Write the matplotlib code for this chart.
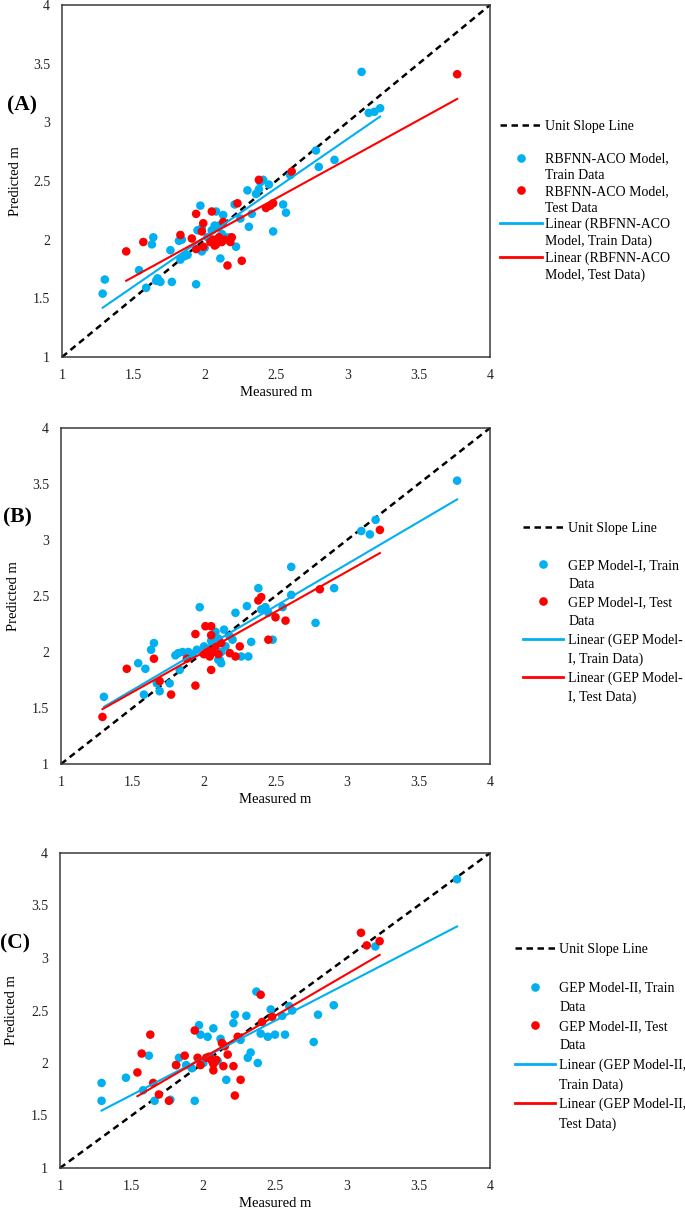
import matplotlib
matplotlib.use("Agg")
import matplotlib.pyplot as plt
from matplotlib.lines import Line2D
import numpy as np

plt.rcParams['font.family'] = ['Liberation Serif', 'DejaVu Serif']

# ---------------- data ----------------
panel_labels = ["(A)", "(B)", "(C)"]
model_names = ["RBFNN-ACO Model", "GEP Model-I", "GEP Model-II"]
ticks = [1, 1.5, 2, 2.5, 3, 3.5, 4]
tick_labels = ["1", "1.5", "2", "2.5", "3", "3.5", "4"]

a_train_x = [1.30, 1.285, 1.54, 1.59, 1.63, 1.64, 1.66, 1.69, 1.67, 1.77, 1.76, 1.82, 1.84, 1.83, 1.88,
             1.86, 1.94, 1.97, 1.95, 1.98, 1.98, 2.00, 2.02, 2.05, 2.08, 2.13, 2.10, 2.11, 2.15, 2.18,
             2.22, 2.21, 2.25, 2.31, 2.33, 2.30, 2.36, 2.38, 2.39, 2.41, 2.45, 2.48, 2.55, 2.57, 2.60,
             2.78, 2.80, 2.91, 3.10, 3.15, 3.19, 3.23, 2.05, 2.07, 2.12]
a_train_y = [1.66, 1.54, 1.74, 1.59, 1.96, 2.02, 1.65, 1.64, 1.67, 1.64, 1.91, 1.99, 2.00, 1.83, 1.87,
             1.86, 1.62, 2.29, 2.08, 2.10, 1.90, 1.93, 2.02, 2.00, 2.24, 2.21, 2.12, 1.84, 2.02, 2.02,
             1.94, 2.30, 2.18, 2.11, 2.22, 2.42, 2.39, 2.43, 2.49, 2.51, 2.47, 2.07, 2.30, 2.23, 2.55,
             2.76, 2.62, 2.68, 3.43, 3.08, 3.09, 3.12, 2.08, 2.12, 2.05]
a_test_x = [1.45, 1.57, 1.83, 1.91, 1.94, 1.99, 1.98, 2.05, 2.13, 1.94, 1.99, 2.04, 2.06, 2.08, 2.10,
            2.12, 2.14, 2.07, 2.16, 2.26, 2.23, 2.38, 2.43, 2.48, 2.46, 2.61, 3.77, 2.18, 2.19]
a_test_y = [1.90, 1.98, 2.04, 2.01, 2.22, 2.14, 2.07, 2.24, 2.15, 1.92, 1.94, 1.98, 2.00, 1.96, 2.02,
            1.98, 2.00, 1.95, 1.78, 1.82, 2.31, 2.51, 2.27, 2.31, 2.29, 2.58, 3.41, 1.98, 2.02]

b_train_x = [1.30, 1.58, 1.54, 1.59, 1.65, 1.63, 1.67, 1.69, 1.76, 1.83, 1.80, 1.82, 1.85, 1.89, 1.92,
             1.97, 1.95, 2.00, 2.05, 2.08, 2.10, 2.12, 2.14, 2.15, 2.18, 2.10, 2.12, 2.22, 2.26, 2.31,
             2.33, 2.30, 2.38, 2.40, 2.43, 2.45, 2.48, 2.55, 2.61, 2.61, 2.78, 2.91, 3.10, 3.16, 3.20,
             3.77, 2.20, 2.11]
b_train_y = [1.60, 1.62, 1.90, 1.85, 2.08, 2.02, 1.72, 1.65, 1.72, 1.84, 1.97, 1.99, 2.00, 2.00, 1.98,
             2.40, 2.02, 2.05, 2.10, 2.18, 2.12, 2.00, 2.20, 2.05, 2.14, 1.93, 1.90, 2.35, 1.96, 1.96,
             2.09, 2.41, 2.57, 2.38, 2.40, 2.35, 2.11, 2.40, 2.51, 2.76, 2.26, 2.57, 3.08, 3.05, 3.18,
             3.53, 2.11, 1.93]
b_test_x = [1.29, 1.46, 1.65, 1.69, 1.77, 1.88, 1.94, 1.94, 2.01, 2.05, 2.05, 2.05, 2.00, 2.02, 2.04,
            2.06, 2.08, 2.10, 2.12, 2.18, 2.22, 2.25, 2.38, 2.40, 2.45, 2.50, 2.57, 2.81, 3.23]
b_test_y = [1.42, 1.85, 1.94, 1.74, 1.62, 1.94, 2.16, 1.70, 2.23, 2.23, 2.15, 1.84, 1.98, 2.02, 1.96,
            2.00, 2.05, 1.98, 2.08, 1.99, 1.96, 2.05, 2.46, 2.49, 2.11, 2.31, 2.28, 2.56, 3.09]

c_train_x = [1.29, 1.29, 1.46, 1.62, 1.58, 1.66, 1.77, 1.81, 1.83, 1.88, 1.92, 1.94, 1.97, 1.98, 2.03,
             2.07, 2.12, 2.00, 2.05, 2.10, 2.16, 2.21, 2.22, 2.30, 2.26, 2.31, 2.33, 2.38, 2.37, 2.40,
             2.45, 2.50, 2.47, 2.55, 2.60, 2.62, 2.57, 2.77, 2.80, 2.91, 3.20, 3.77]
c_train_y = [1.81, 1.64, 1.86, 2.07, 1.74, 1.64, 1.65, 1.98, 2.05, 1.98, 1.95, 1.64, 2.36, 2.27, 2.25,
             2.33, 2.23, 2.00, 2.05, 2.02, 1.84, 2.38, 2.46, 2.45, 2.22, 2.05, 2.10, 2.00, 2.68, 2.28,
             2.25, 2.27, 2.51, 2.45, 2.54, 2.50, 2.27, 2.20, 2.46, 2.55, 3.11, 3.75]
c_test_x = [1.54, 1.57, 1.63, 1.65, 1.69, 1.76, 1.81, 1.87, 1.94, 1.96, 1.98, 2.02, 2.04, 2.06, 2.07,
            2.09, 2.07, 2.13, 2.15, 2.14, 2.17, 2.21, 2.24, 2.26, 2.22, 2.40, 2.41, 2.48, 3.10, 3.14, 3.23]
c_test_y = [1.91, 2.09, 2.27, 1.81, 1.70, 1.64, 1.98, 2.07, 2.31, 2.05, 1.98, 2.05, 2.06, 2.02, 1.99,
            2.03, 1.93, 2.19, 2.16, 1.97, 2.08, 1.97, 2.25, 1.84, 1.69, 2.65, 2.39, 2.44, 3.24, 3.12, 3.16]

# trend lines (slope, intercept)
a_fit_train = (0.838, 0.343)
a_fit_test = (0.668, 0.681)
b_fit_train = (0.750, 0.535)
b_fit_test = (0.718, 0.564)
c_fit_train = (0.707, 0.635)
c_fit_test = (0.796, 0.458)

# ---------------- style / layout ----------------
BLUE = "#00B0F0"
RED = "#FF0000"
W, H = 685, 1212
fig = plt.figure(figsize=(W / 100, H / 100), dpi=100)

def fx(px):
    return px / W

def fy(py):
    return 1 - py / H

panels = [
    dict(box=(62, 5, 490, 357), data=(a_train_x, a_train_y, a_test_x, a_test_y, a_fit_train, a_fit_test),
         leg=(500, 120, 3.0, 0.22, 0.24), lab=(22, 105), ylab_x=22, pairs=[("RBFNN-ACO Model,", "Train Data"),
         ("RBFNN-ACO Model,", "Test Data"), ("Linear (RBFNN-ACO", "Model, Train Data)"), ("Linear (RBFNN-ACO", "Model, Test Data)")]),
    dict(box=(61, 428, 490, 764), data=(b_train_x, b_train_y, b_test_x, b_test_y, b_fit_train, b_fit_test),
         leg=(523, 522, 2.9, 0.36, 0.40), lab=(17, 517), ylab_x=20, pairs=[("GEP Model-I, Train", "Data"),
         ("GEP Model-I, Test", "Data"), ("Linear (GEP Model-", "I, Train Data)"), ("Linear (GEP Model-", "I, Test Data)")]),
    dict(box=(60, 853, 490, 1168), data=(c_train_x, c_train_y, c_test_x, c_test_y, c_fit_train, c_fit_test),
         leg=(515, 943, 2.9, 0.29, 0.45), lab=(15, 943), ylab_x=18, pairs=[("GEP Model-II, Train", "Data"),
         ("GEP Model-II, Test", "Data"), ("Linear (GEP Model-II,", "Train Data)"), ("Linear (GEP Model-II,", "Test Data)")]),
]

for i, p in enumerate(panels):
    l, t, r, b = p["box"]
    ax = fig.add_axes([fx(l), fy(b), fx(r) - fx(l), fy(t) - fy(b)])
    trx, tr_y, tex, tey, ftr, fte = p["data"]
    ax.plot([ticks[0], ticks[-1]], [ticks[0], ticks[-1]], color="black", lw=1.8,
            linestyle=(0, (2.6, 1.8)), zorder=1, clip_on=False)
    ax.scatter(trx, tr_y, s=38, color=BLUE, edgecolors="none", zorder=2)
    ax.scatter(tex, tey, s=38, color=RED, edgecolors="none", zorder=3)
    xs = np.array([min(trx), max(trx)])
    ax.plot(xs, ftr[0] * xs + ftr[1], color=BLUE, lw=1.5, zorder=4)
    xs = np.array([min(tex), max(tex)])
    ax.plot(xs, fte[0] * xs + fte[1], color=RED, lw=1.5, zorder=4)
    ax.set_xlim(1, 4)
    ax.set_ylim(1, 4)
    ax.set_xticks(ticks)
    ax.set_xticklabels(tick_labels)
    ax.set_yticks(ticks)
    ax.set_yticklabels(tick_labels)
    ax.tick_params(length=0, labelsize=10, pad=8.5, colors="#222222")
    for s in ax.spines.values():
        s.set_color("#3a3a3a")
        s.set_linewidth(1.1)
    ax.set_xlabel("Measured m", fontsize=10.5, labelpad=3)
    ax.set_ylabel("Predicted m", fontsize=10.5, labelpad=4)
    ax.yaxis.set_label_coords((p["ylab_x"] - l) / (r - l), 0.5, transform=ax.transAxes)

    fig.text(fx(p["lab"][0]), fy(p["lab"][1]), panel_labels[i],
             fontsize=15.5, fontweight="bold", ha="center", va="center")

    # legend: each text line as its own row
    blank = Line2D([], [], color="none")
    handles = [Line2D([], [], color="black", lw=1.8, linestyle=(0, (2.6, 1.8))), blank]
    labels = ["Unit Slope Line", " "]
    hs = [Line2D([], [], color=BLUE, marker="o", linestyle="none", markersize=6.2, markeredgewidth=0),
          Line2D([], [], color=RED, marker="o", linestyle="none", markersize=6.2, markeredgewidth=0),
          Line2D([], [], color=BLUE, lw=2),
          Line2D([], [], color=RED, lw=2)]
    for h, (l1, l2) in zip(hs, p["pairs"]):
        handles += [h, blank]
        labels += [l1, l2]
    lx, ly, hl, htp, lsp = p["leg"]
    fig.legend(handles, labels, loc="upper left", bbox_to_anchor=(fx(lx), fy(ly)),
               frameon=False, borderpad=0, borderaxespad=0, handlelength=hl,
               handletextpad=htp, labelspacing=lsp, fontsize=10)

fig.savefig("out.png", dpi=100)
